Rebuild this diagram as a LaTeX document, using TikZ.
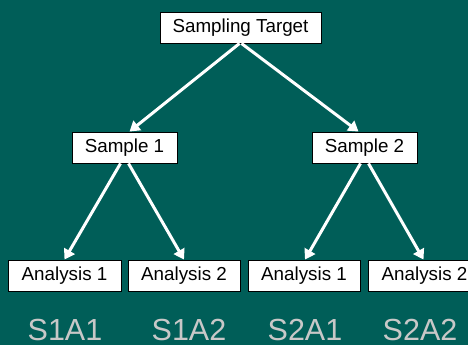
\documentclass[tikz,border=0pt]{standalone}
\usepackage{fontspec}
\setmainfont{Liberation Sans}
\usetikzlibrary{arrows.meta}
\definecolor{bgteal}{HTML}{005E58}
\definecolor{labgray}{HTML}{C8C8C8}
\tikzset{
  box/.style={draw=black, line width=0.9pt, fill=white, inner sep=0pt, minimum height=31pt, font=\fontsize{18.8}{21}\selectfont},
  conn/.style={draw=white, line width=3pt, -{Triangle[width=12pt,length=10pt]}},
  lab/.style={text=labgray, font=\fontsize{30.5}{34}\selectfont, inner sep=0pt, anchor=base}
}
\begin{document}
\begin{tikzpicture}[x=1pt,y=-1pt]
\fill[bgteal] (0,0) rectangle (468,345);
\useasboundingbox (0,0) rectangle (468,345);
\begin{scope}
\clip (0,0) rectangle (468,345);
\node[box, minimum width=161pt] (top) at (240.5,27.5) {Sampling Target};
\node[box, minimum width=105pt] (s1) at (124.5,147.5) {Sample 1};
\node[box, minimum width=105pt] (s2) at (364.5,147.5) {Sample 2};
\node[box, minimum width=113pt] (a11) at (64.5,275.5) {Analysis 1};
\node[box, minimum width=112pt] (a12) at (184,275.5) {Analysis 2};
\node[box, minimum width=112pt] (a21) at (304,275.5) {Analysis 1};
\node[box, minimum width=113pt] (a22) at (424.5,275.5) {Analysis 2};
\draw[conn] ([xshift=-1pt]top.south) -- ([xshift=5pt]s1.north);
\draw[conn] ([xshift=1pt]top.south) -- ([xshift=-6pt]s2.north);
\draw[conn] ([xshift=-4pt]s1.south) -- ([xshift=0pt]a11.north);
\draw[conn] ([xshift=4pt]s1.south) -- ([xshift=0pt]a12.north);
\draw[conn] ([xshift=-4pt]s2.south) -- ([xshift=1pt]a21.north);
\draw[conn] ([xshift=4pt]s2.south) -- ([xshift=-1pt]a22.north);
\end{scope}
\node[lab] (l1) at (65,340) {S1A1};
\node[lab] (l2) at (189,340) {S1A2};
\node[lab] (l3) at (305,340) {S2A1};
\node[lab] (l4) at (420,340) {S2A2};
\end{tikzpicture}
\end{document}
